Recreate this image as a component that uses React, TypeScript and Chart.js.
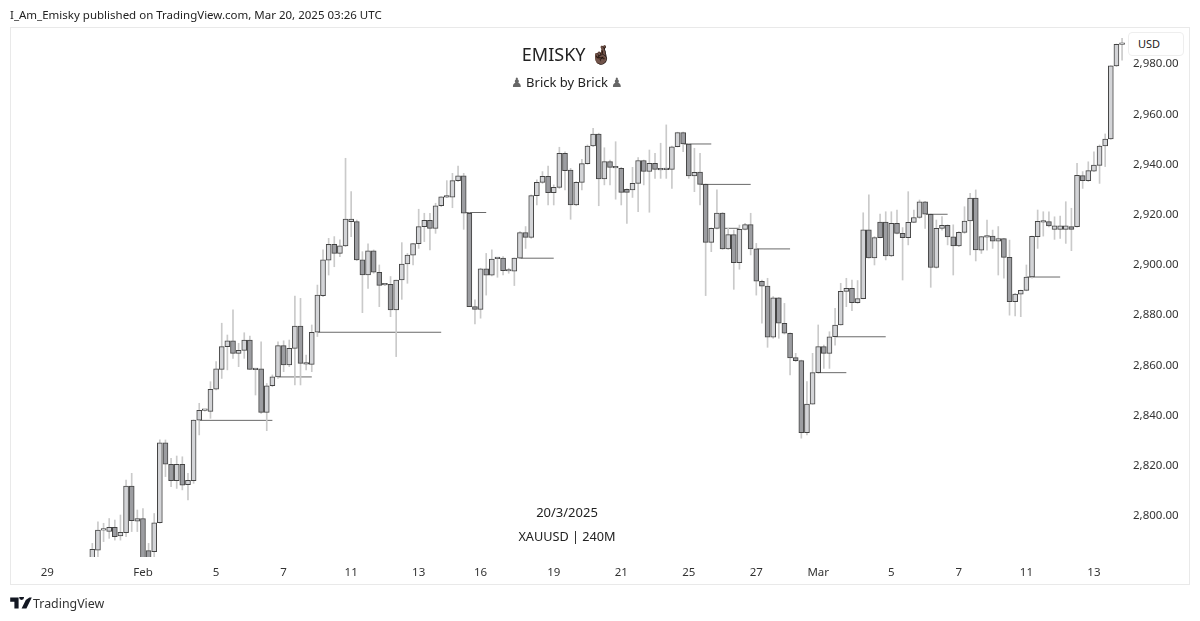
import React, { useEffect, useRef } from "react";
import { Chart, registerables } from "chart.js";

Chart.register(...registerables);

// Candles in bar order, prices in USD
const opens = [
  2781,2786.4,2794.4,2793.9,2795.5,2792.1,2793.4,2811.9,2797.9,2799,2786.2,2785.8,2797.3,2829.2,2820.6,2814.1,2820.6,2812.5,2814.1,2838.2,
  2842.1,2841.7,2850.5,2858.4,2867.5,2869.8,2864.8,2866,2870.1,2858.4,2858.6,2841.3,2851.9,2855.4,2867.9,2860.2,2866.8,2875.7,2860.8,2860.4,
  2873.2,2887.8,2901.9,2908.2,2904.6,2907.6,2917.3,2917.3,2902,2896,2905.6,2897.1,2892.3,2892.3,2882.1,2894,2900.4,2903.9,2908.5,2915.3,
  2917.8,2914.6,2923.6,2927.2,2927,2933.6,2935.5,2920.6,2883.4,2882.3,2898.5,2895.9,2902.7,2902.7,2897.8,2897.5,2902.7,2912.9,2911,2927.6,
  2932.9,2935.3,2928.8,2930.9,2944.5,2937.8,2923.9,2932.9,2940.4,2947.4,2952.1,2934.3,2941.2,2938.9,2938.5,2930.1,2929.9,2932.5,2941.6,2937.3,
  2940.5,2938.1,2938.1,2938.1,2947.1,2952.7,2948.2,2935.5,2937,2932.1,2909,2914.6,2920.7,2906.4,2912.1,2900.9,2914.2,2916.1,2906.4,2893.5,
  2891.6,2871.2,2886.9,2876.8,2872.8,2863.1,2861.9,2833.2,2844.6,2857.1,2867.5,2864.8,2871.4,2876.1,2889.5,2890.7,2885,2886.6,2914,2902.8,
  2917.1,2917.1,2903.6,2916.6,2912.6,2910.9,2917,2918.9,2925.2,2920.2,2899,2914.6,2915.8,2911.2,2907.6,2913,2917.5,2926.6,2905.9,2911.3,
  2911.5,2909.5,2910.5,2903,2885.4,2888.4,2889.9,2895.2,2911.3,2917.3,2917.3,2914.2,2914.2,2914.2,2915.3,2915.3,2935.6,2933.6,2937.4,2939.7,
  2947.4,2950.2,2979.3,2987.9,
];
const closes = [
  2786.7,2794.4,2794.6,2795.5,2791.8,2793.5,2811.9,2798.1,2799,2780,2780,2797.3,2829.2,2820.6,2814.1,2820.6,2812.3,2814.2,2838.2,2842.1,
  2842.2,2850.5,2858.6,2867.5,2869.8,2864.8,2866,2870.1,2858.4,2858.3,2841.3,2851.9,2855.4,2867.9,2860.2,2866.8,2875.7,2860.8,2860.5,2873.2,
  2888,2902,2908.2,2904.6,2907.6,2918.3,2918.3,2902,2896,2905.6,2897.1,2891.9,2892.1,2882.1,2894,2900.4,2903.9,2908.5,2915.3,2917.8,
  2914.6,2923.6,2927.1,2927,2933.6,2935.5,2920.6,2883.4,2882.3,2898.5,2895.9,2902.3,2902.5,2897.7,2897.6,2902.7,2912.9,2911,2927.6,2932.9,
  2935.3,2928.8,2930.9,2944.5,2937.6,2923.9,2932.9,2940.4,2947.4,2952.1,2934.3,2941.2,2938.9,2938.7,2928.9,2928.9,2932.5,2941.6,2937.3,2940.5,
  2938.1,2937.9,2938,2947.1,2952.7,2948.2,2935.5,2936.9,2932.1,2909,2914.6,2920.7,2906.4,2912.1,2900.9,2914.2,2916.1,2906.4,2893.5,2891.6,
  2871.2,2886.9,2876.8,2872.8,2863,2861.9,2833.2,2844.6,2857.1,2867.5,2864.8,2871.4,2876.1,2889.5,2890.7,2885,2886.6,2914,2902.8,2910.9,
  2910.9,2903.6,2916.6,2912.6,2910.9,2917,2918.9,2925.2,2920.2,2899,2914.6,2915.8,2911.2,2907.6,2913,2917.5,2926.6,2906,2911.3,2911.1,
  2909.5,2910.5,2903,2885.4,2888.4,2889.9,2895.2,2911.4,2917.4,2917.1,2915.6,2915.6,2915.6,2915.6,2914.2,2935.7,2933.6,2937.6,2939.8,2947.4,
  2950.2,2979.3,2987.9,2988,
];
const highs = [
  2789.1,2797.7,2797.1,2799,2798.4,2800.4,2814.3,2817,2802.4,2803,2789.1,2801,2830.3,2830.3,2823,2823.9,2823.6,2817,2838.3,2844.9,
  2842.5,2853.5,2861.5,2876.8,2872.1,2882.1,2868.8,2873,2871.7,2858.7,2869.4,2852.8,2856.2,2869.4,2869.8,2870.1,2887.6,2886.7,2864.1,2876.1,
  2892,2906,2910.6,2911.3,2910,2942.5,2929.2,2917.9,2905.3,2908.4,2906,2900,2892.6,2895.4,2894,2908.9,2904.6,2908.6,2922.2,2920.6,
  2920.6,2924.6,2927.2,2933.6,2936.5,2939.4,2936.5,2920.8,2886.1,2898.7,2904.6,2906,2902.9,2903.3,2898.7,2902.8,2913.3,2915.3,2927.9,2933.9,
  2937.2,2939.4,2931.9,2946.9,2945.1,2938.5,2933.2,2942.1,2947.8,2954.4,2952.5,2946.7,2941.8,2949.1,2938.9,2930.3,2938.9,2942.8,2941.8,2945.8,
  2944.5,2948.5,2955.8,2947.4,2952.9,2952.9,2948.5,2946.5,2944.5,2932.3,2914.8,2929.9,2920.9,2914.6,2913.9,2915.9,2916.6,2920.6,2908.6,2894,
  2894.7,2887.4,2887.1,2884.7,2873,2864.8,2862.1,2853.5,2864.8,2876.1,2868.1,2873.4,2882.7,2892.7,2894.7,2894,2893.8,2920.8,2927.9,2911.3,
  2920.3,2921.2,2921.2,2921.9,2914.9,2929.2,2921.9,2925.9,2925.4,2920.4,2917.9,2919.3,2916,2916,2913.3,2923.2,2928.5,2929.9,2911.4,2917.9,
  2913.9,2915.3,2910.6,2909.9,2888.7,2890,2900,2911.5,2921.9,2921.2,2921.2,2919.2,2919.5,2925.2,2922.6,2940.5,2937.2,2941.1,2945.1,2947.8,
  2952.2,2979.4,2988,2990.3,
];
const lows = [
  2780,2783.1,2789.8,2791.1,2790.4,2790.4,2791.8,2793.8,2793.8,2778,2778,2783.8,2797.1,2815.7,2811.7,2811,2810.4,2806.4,2813,2832.3,
  2841.8,2838.9,2850.2,2854.8,2858.2,2862.8,2859.5,2862.8,2858.4,2848.2,2840.9,2834,2851.5,2854.8,2857.5,2859.5,2852.2,2852.2,2858.2,2857.5,
  2871.5,2887.4,2896,2899.3,2903.3,2907.3,2911.3,2901.7,2881,2890.7,2896.7,2883.4,2891.8,2879.4,2863.5,2886.3,2892.7,2900,2906.6,2909.3,
  2906,2912.6,2923.2,2926.8,2922.8,2933.2,2914.2,2883.4,2876.5,2878.8,2888,2895.6,2895.1,2896,2896.7,2891.8,2902.5,2906.6,2910.6,2923.9,
  2932.5,2923.9,2923.9,2930.5,2929.9,2918.2,2923.6,2929.9,2940.1,2947.1,2923.6,2931.9,2931.9,2926.2,2923.9,2916.6,2926.9,2921.2,2931.9,2921,
  2934.5,2934.5,2934.5,2930.5,2947,2945.1,2934.5,2929.2,2923.9,2887.8,2905.3,2914.4,2906.2,2906.2,2890.3,2898.3,2914,2904,2888,2876.8,
  2867.2,2870.8,2870.8,2872.5,2856.2,2861.5,2831,2832.3,2844.5,2856.8,2858.8,2858.8,2868.1,2876,2883.4,2881.8,2884.7,2886.5,2902.7,2900,
  2910.8,2902,2903.3,2912.4,2894,2908,2916.9,2918.6,2914.6,2891.1,2898.7,2913.9,2908,2896,2907.3,2912.6,2904,2901.6,2904.6,2905.9,
  2906.6,2896,2894.7,2880,2879.7,2879.4,2889.7,2894.7,2906.6,2911.5,2915.2,2910.2,2910.6,2908.6,2905.7,2915.1,2930.5,2933.2,2937.2,2932.5,
  2939.2,2950,2979,2981.6,
];

// Horizontal levels: starting bar, ending bar, price
const levelStart = [19, 33, 40, 66, 76, 105, 108, 112, 118, 129, 132, 148, 166];
const levelEnd = [32, 39, 62, 70, 82, 110, 117, 115, 124, 134, 141, 152, 172];
const levelPrice = [2838.1, 2855.4, 2873.2, 2920.9, 2902.7, 2948.2, 2932.1, 2914.6, 2906.4, 2857.1, 2871.4, 2920.2, 2895.2];

const dateBars = [-8, 9, 22, 34, 46, 58, 69, 82, 94, 106, 118, 129, 142, 154, 166, 178];
const dateLabels = ["29", "Feb", "5", "7", "11", "13", "16", "19", "21", "25", "27", "Mar", "5", "7", "11", "13"];
const priceTicks = [2800, 2820, 2840, 2860, 2880, 2900, 2920, 2940, 2960, 2980];

const FONT = '"Noto Sans", sans-serif';

const center = (top: number, size: number): React.CSSProperties => ({
  position: "absolute",
  left: 367,
  width: 400,
  top,
  textAlign: "center",
  fontSize: size,
  lineHeight: "20px",
  color: "#222",
  whiteSpace: "nowrap",
});

const pawn: React.CSSProperties = { color: "#666" };

export default function App() {
  const ref = useRef<HTMLCanvasElement>(null);

  useEffect(() => {
    const wicks = lows.map((l, i) => ({ x: i, y: [l, highs[i]] }));
    const bodies = opens.map((o, i) => ({ x: i, y: [o, closes[i]] }));
    const levels = levelPrice.map((p, i) => ({
      type: "line" as const,
      data: [
        { x: levelStart[i], y: p },
        { x: levelEnd[i], y: p },
      ],
      borderColor: "#6a6a6a",
      borderWidth: 1,
      pointRadius: 0,
      order: 3,
    }));
    const chart = new Chart(ref.current!, {
      type: "bar",
      data: {
        datasets: [
          {
            data: wicks as any,
            backgroundColor: "#cacaca",
            barThickness: 1,
            grouped: false,
            order: 2,
          },
          {
            data: bodies as any,
            backgroundColor: opens.map((o, i) => (closes[i] >= o ? "#d3d4d7" : "#9c9da1")),
            borderColor: "#444444",
            borderWidth: 1,
            borderSkipped: false,
            barThickness: 5,
            minBarLength: 1.5,
            grouped: false,
            order: 1,
          },
          ...levels,
        ] as any,
      },
      options: {
        animation: false,
        responsive: false,
        layout: { padding: { left: 11, right: 10, top: 28, bottom: 36 } },
        plugins: { legend: { display: false }, tooltip: { enabled: false } },
        scales: {
          x: {
            type: "linear",
            offset: false,
            min: -14.45,
            max: 183.7,
            grid: { display: false, drawTicks: false },
            border: { display: false },
            afterFit: (s: any) => {
              s.height = 28;
              s.paddingLeft = 0;
              s.paddingRight = 0;
            },
            afterBuildTicks: (s: any) => {
              s.ticks = dateBars.map((v) => ({ value: v }));
            },
            ticks: {
              autoSkip: false,
              maxRotation: 0,
              padding: 9,
              color: "#333",
              font: { family: FONT, size: 11.5 },
              callback: (v: any) => dateLabels[dateBars.indexOf(Number(v))] ?? "",
            },
          },
          y: {
            position: "right",
            min: 2783.67,
            max: 2994.4,
            grid: { display: false, drawTicks: false },
            border: { display: false },
            afterFit: (s: any) => {
              s.width = 64;
              s.paddingTop = 0;
              s.paddingBottom = 0;
            },
            afterBuildTicks: (s: any) => {
              s.ticks = priceTicks.map((v) => ({ value: v }));
            },
            ticks: {
              padding: 7,
              color: "#333",
              font: { family: FONT, size: 11.5 },
              callback: (v: any) =>
                Number(v).toLocaleString("en-US", { minimumFractionDigits: 2, maximumFractionDigits: 2 }),
            },
          },
        },
      },
    });
    return () => chart.destroy();
  }, []);

  return (
    <div style={{ position: "fixed", left: 0, top: 0, width: 1200, height: 621, background: "#fff", fontFamily: FONT, overflow: "hidden" }}>
      <canvas ref={ref} width={1200} height={621} style={{ position: "absolute", left: 0, top: 0, display: "block" }} />
      <div style={{ position: "absolute", left: 10, top: 27, width: 1180, height: 558, border: "1px solid #e9e9e9", boxSizing: "border-box", pointerEvents: "none" }} />
      <div style={{ position: "absolute", left: 10, top: 6, fontSize: 11.5, lineHeight: "18px", color: "#222", whiteSpace: "nowrap" }}>
        I_Am_Emisky published on TradingView.com, Mar 20, 2025 03:26 UTC
      </div>
      <div style={center(44, 18)}>EMISKY 🤞🏿</div>
      <div style={center(72, 13)}><span style={pawn}>♟</span> Brick by Brick <span style={pawn}>♟</span></div>
      <div style={center(502, 13)}>20/3/2025</div>
      <div style={center(526, 12.7)}>XAUUSD | 240M</div>
      <div style={{ position: "absolute", left: 1128, top: 32, width: 56, height: 24, background: "#fff", border: "1px solid #eeeeee", borderRadius: 4, boxSizing: "border-box", fontSize: 11, lineHeight: "22px", paddingLeft: 9, color: "#222" }}>
        USD
      </div>
      <svg width="22" height="12" viewBox="0 0 36 20" style={{ position: "absolute", left: 10, top: 597 }}>
        <path d="M0 1H14V19H7V8H0Z M32 1H36L27 19H19L26 5 M15 1a4 4 0 1 0 8 0a4 4 0 1 0 -8 0" fill="#131722" />
      </svg>
      <div style={{ position: "absolute", left: 33, top: 594, fontSize: 12.4, lineHeight: "20px", color: "#333", whiteSpace: "nowrap" }}>TradingView</div>
    </div>
  );
}
